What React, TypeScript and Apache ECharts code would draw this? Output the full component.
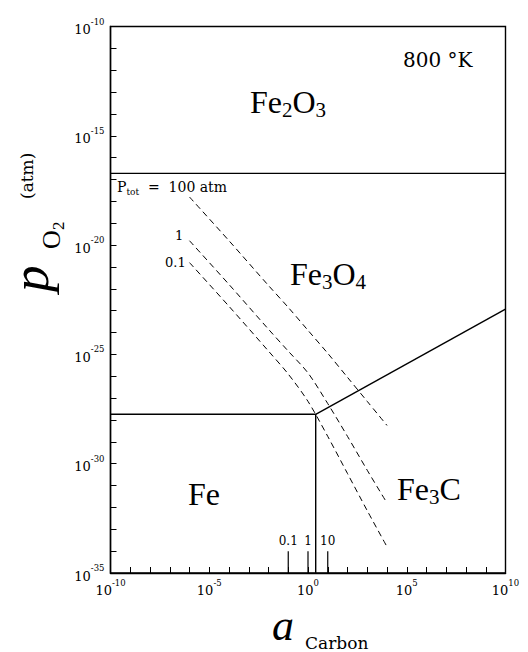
import React, { useEffect, useRef } from 'react';
import * as echarts from 'echarts';

const WIDTH = 528;
const HEIGHT = 652;

// axis extents (log10 exponents)
const logActivityRange = [-10, 10];
const logPO2Range = [-35, -10];
const labelStep = 5;

// phase boundaries (log10 a_C, log10 p_O2)
const hematiteMagnetiteLogA = [-10, 10];
const hematiteMagnetiteLogP = [-16.72, -16.72];
const magnetiteIronLogA = [-10, 0.39];
const magnetiteIronLogP = [-27.74, -27.74];
const ironCarbideLogA = [0.39, 0.39];
const ironCarbideLogP = [-27.74, -35];
const magnetiteCarbideLogA = [0.39, 10];
const magnetiteCarbideLogP = [-27.74, -22.93];

// short activity markers on the bottom axis
const markerLogA = [-1, 0, 1];
const markerLabels = ['0.1', '1', '10'];
const markerLogP = [-35, -34];

// total-pressure isobars
const isobarLogA = [-6, -4, -2, -1, 0, 1, 2, 3, 4];
const isobar100atm = [-17.8, -19.8, -21.85, -22.85, -23.9, -24.95, -26.05, -27.15, -28.25];
const isobar1atm = [-19.8, -21.8, -23.85, -24.85, -25.85, -27.25, -28.75, -30.3, -31.8];
const isobar01atm = [-20.8, -22.8, -24.85, -25.9, -27.15, -28.75, -30.45, -32.15, -33.8];

const SERIF = '"Liberation Serif", "Times New Roman", serif';
const DSERIF = '"DejaVu Serif", serif';

const pairs = (xs: number[], ys: number[]) => xs.map((x, i) => [x, ys[i]]);

const tickRich = {
  b: { fontSize: 13, fontFamily: DSERIF, color: '#000', lineHeight: 19, verticalAlign: 'bottom' },
  s: { fontSize: 8.5, fontFamily: DSERIF, color: '#000', lineHeight: 9, verticalAlign: 'top' },
};

const tickFormatter = (v: number) => {
  const n = Math.round(v);
  if (Math.abs(v - n) > 1e-6 || n % labelStep !== 0) return '';
  return `{b|10}{s|${n}}`;
};

// rich chemical formula: parts = [text, isSub]
function formula(left: number, baseline: number, parts: [string, boolean][]) {
  const size = 32;
  const text = parts.map(([t, sub]) => `{${sub ? 'b' : 'a'}|${t}}`).join('');
  return {
    type: 'text',
    x: left,
    y: baseline - 26.8,
    silent: true,
    style: {
      text,
      align: 'left',
      verticalAlign: 'top',
      textAlign: 'left',
      textVerticalAlign: 'top',
      fill: '#000',
      rich: {
        a: { fontSize: size, fontFamily: SERIF, color: '#000', lineHeight: 34, verticalAlign: 'top' },
        b: { fontSize: 21, fontFamily: SERIF, color: '#000', lineHeight: 21, verticalAlign: 'bottom' },
      },
    },
  };
}

function plain(left: number, baseline: number, text: string, size: number, family: string, extra: any = {}) {
  return {
    type: 'text',
    x: left,
    y: baseline - 0.3375 * size,
    silent: true,
    style: {
      text,
      fontSize: size,
      fontFamily: family,
      fill: '#000',
      align: 'left',
      verticalAlign: 'middle',
      textAlign: 'left',
      textVerticalAlign: 'middle',
      ...extra,
    },
  };
}

export default function App() {
  const ref = useRef<HTMLDivElement>(null);

  useEffect(() => {
    if (!ref.current) return;
    const chart = echarts.init(ref.current, undefined, { renderer: 'svg', width: WIDTH, height: HEIGHT });

    const solid = { color: '#000', width: 1.4 };
    const dashed = { color: '#000', width: 1, type: [6, 4] as any };

    const lineSeries = (name: string, data: any[], lineStyle: any, extra: any = {}) => ({
      name,
      type: 'line',
      data,
      showSymbol: false,
      symbol: 'none',
      lineStyle,
      silent: true,
      z: 3,
      ...extra,
    });

    const series: any[] = [
      lineSeries('Fe2O3/Fe3O4', pairs(hematiteMagnetiteLogA, hematiteMagnetiteLogP), solid),
      lineSeries('Fe3O4/Fe', pairs(magnetiteIronLogA, magnetiteIronLogP), solid),
      lineSeries('Fe/Fe3C', pairs(ironCarbideLogA, ironCarbideLogP), solid),
      lineSeries('Fe3O4/Fe3C', pairs(magnetiteCarbideLogA, magnetiteCarbideLogP), solid),
      lineSeries('Ptot 100', pairs(isobarLogA, isobar100atm), dashed, { smooth: 0.3 }),
      lineSeries('Ptot 1', pairs(isobarLogA, isobar1atm), dashed, { smooth: 0.3 }),
      lineSeries('Ptot 0.1', pairs(isobarLogA, isobar01atm), dashed, { smooth: 0.3 }),
      ...markerLogA.map((a, i) =>
        lineSeries(
          'marker ' + markerLabels[i],
          [
            { value: [a, markerLogP[0]], label: { show: false } },
            {
              value: [a, markerLogP[1]],
              label: {
                show: true,
                position: 'top',
                distance: 4,
                formatter: markerLabels[i],
                fontSize: 12,
                fontFamily: DSERIF,
                color: '#000',
              },
            },
          ],
          { color: '#000', width: 1.2 },
          { showSymbol: true, symbol: 'circle', symbolSize: 0.01, itemStyle: { color: 'transparent' } },
        ),
      ),
    ];

    const graphic: any[] = [
      formula(250, 113, [['Fe', false], ['2', true], ['O', false], ['3', true]]),
      formula(290, 285, [['Fe', false], ['3', true], ['O', false], ['4', true]]),
      formula(188, 505, [['Fe', false]]),
      formula(397, 500, [['Fe', false], ['3', true], ['C', false]]),
      plain(403, 67, '800 °K', 20, DSERIF),
      {
        type: 'text',
        x: 117,
        y: 180,
        silent: true,
        style: {
          text: '{a|P}{t|tot}{a|  =  100 atm}',
          align: 'left',
          verticalAlign: 'top',
          textAlign: 'left',
          textVerticalAlign: 'top',
          fill: '#000',
          rich: {
            a: { fontSize: 14, fontFamily: DSERIF, color: '#000', lineHeight: 16, verticalAlign: 'top' },
            t: { fontSize: 9, fontFamily: DSERIF, color: '#000', lineHeight: 9, verticalAlign: 'bottom' },
          },
        },
      },
      plain(175, 240, '1', 13, DSERIF),
      plain(165, 267, '0.1', 13, DSERIF),
      // x axis title
      plain(272, 640, 'a', 44, SERIF, { fontStyle: 'italic' }),
      plain(305, 649, 'Carbon', 17, DSERIF),
      // y axis title (rotated, reads bottom to top)
      {
        type: 'group',
        x: 48,
        y: 292,
        rotation: Math.PI / 2,
        silent: true,
        children: [
          plain(0, 0, 'p', 53, SERIF, { fontStyle: 'italic', lineHeight: 40 }),
          plain(43, 12, 'O', 26, SERIF),
          plain(62, 16, '2', 17, SERIF),
          plain(93, -15, '(atm)', 17, DSERIF),
        ],
      },
    ];

    chart.setOption({
      animation: false,
      backgroundColor: '#fff',
      grid: {
        left: 110.5,
        right: 22.5,
        top: 26.5,
        bottom: 79,
        show: true,
        borderColor: '#000',
        borderWidth: 1.4,
        backgroundColor: 'transparent',
        containLabel: false,
        outerBoundsMode: 'none',
      },
      xAxis: {
        type: 'value',
        min: logActivityRange[0],
        max: logActivityRange[1],
        interval: 1,
        axisLine: { show: true, onZero: false, lineStyle: { color: '#000', width: 1.4 } },
        axisTick: { show: true, inside: true, length: 6, lineStyle: { color: '#000', width: 1 } },
        splitLine: { show: false },
        axisLabel: { show: true, margin: 5, formatter: tickFormatter, rich: tickRich, showMinLabel: true, showMaxLabel: true, hideOverlap: false },
      },
      yAxis: {
        type: 'value',
        min: logPO2Range[0],
        max: logPO2Range[1],
        interval: 1,
        axisLine: { show: true, onZero: false, lineStyle: { color: '#000', width: 1.4 } },
        axisTick: { show: true, inside: true, length: 6, lineStyle: { color: '#000', width: 1 } },
        splitLine: { show: false },
        axisLabel: { show: true, margin: 6, formatter: tickFormatter, rich: tickRich, showMinLabel: true, showMaxLabel: true, hideOverlap: false },
      },
      series,
      graphic,
    });

    return () => chart.dispose();
  }, []);

  return (
    <div
      ref={ref}
      style={{ position: 'fixed', left: 0, top: 0, width: WIDTH, height: HEIGHT, background: '#fff' }}
    />
  );
}
